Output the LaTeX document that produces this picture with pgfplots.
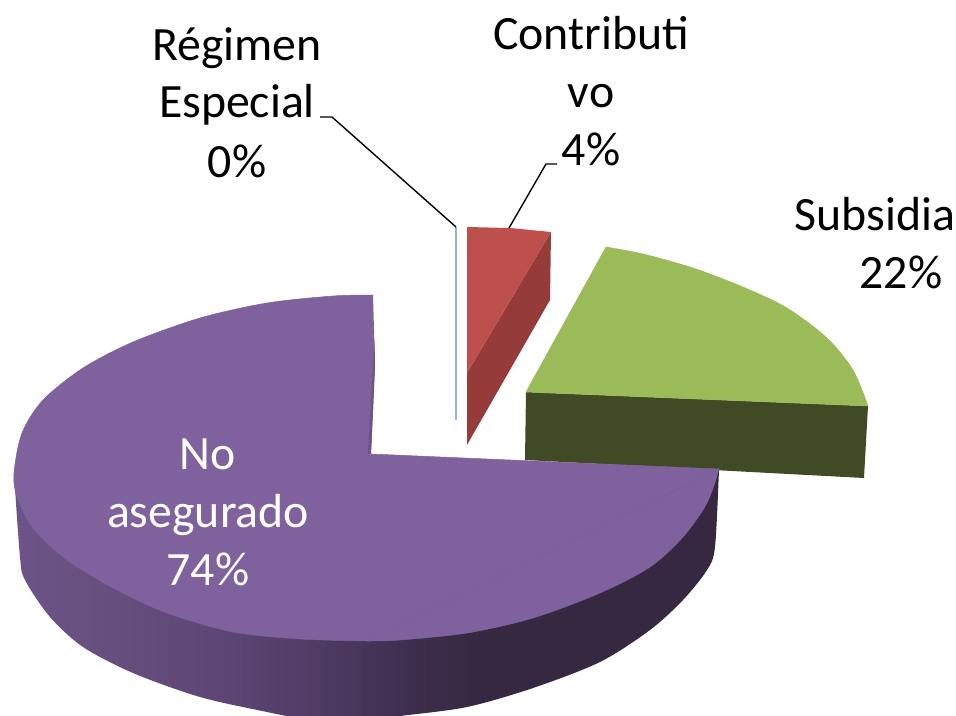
\documentclass[border=0pt]{standalone}
\usepackage{pgfplots}
\pgfplotsset{compat=1.18}
\usepackage{fontspec}
\setmainfont{Carlito}
\definecolor{purpletop}{HTML}{7F619D}
\definecolor{purplein}{HTML}{6C5389}
\definecolor{greentop}{HTML}{9BBB59}
\definecolor{greenside}{HTML}{404A24}
\definecolor{redtop}{HTML}{BD4F4C}
\definecolor{redside}{HTML}{953B3A}
\definecolor{bluefine}{HTML}{95B3D7}
\pgfdeclarehorizontalshading{purpleside}{100bp}{
 color(0bp)=(purplein); color(25bp)=(purplein);
 rgb(31bp)=(0.404,0.314,0.498);
 rgb(38.2bp)=(0.373,0.282,0.467);
 rgb(45.3bp)=(0.322,0.243,0.408);
 rgb(52.4bp)=(0.247,0.184,0.314);
 rgb(58bp)=(0.212,0.157,0.255);
 rgb(100bp)=(0.208,0.157,0.251)}
\newcommand{\lab}[3]{\node[anchor=base,inner sep=0pt,text=#3,font=\fontsize{47.8}{57}\selectfont] at (axis cs:#1) {#2};}
\begin{document}
\begin{tikzpicture}
\useasboundingbox (0,0) rectangle (956pt,715pt);
\begin{axis}[
  at={(0,0)}, anchor=south west,
  scale only axis, width=956pt, height=715pt,
  xmin=0, xmax=956, ymin=0, ymax=715, y dir=reverse,
  hide axis, clip=true]
% green side and top
\addplot[fill=greenside,draw=none] coordinates {(526,392)(868,406)(864,478)(525,460)} --cycle;
\addplot[fill=greentop,draw=greentop,line width=0.5pt,smooth] coordinates {(606,247)(643,254)(693,268)(743,287)(787,308)(827,338)(853,370)(868,406)};
\addplot[fill=greentop,draw=greentop,line width=0.5pt] coordinates {(606,247)(868,406)(526,392)} --cycle;
% red side and top
\addplot[fill=redside,draw=none] coordinates {(551,232)(550,300)(467,445)(467,373)} --cycle;
\addplot[fill=redtop,draw=none] coordinates {(467,227)(510,228)(551,232)(467,373)} --cycle;
% thin slice
\addplot[bluefine,line width=1.4pt] coordinates {(456,227)(456,420)};
% purple side and top
\addplot[shading=purpleside,draw=none,smooth] coordinates {(14,473)(20,557)(25,580)(50,617)(83,647)(133,673)(200,697)(267,712)(300,718)(350,722)(400,716)(467,707)(533,688)(600,662)(650,630)(683,600)(707,570)(715,547)(719,469)};
\addplot[fill=purpletop,draw=purpletop,line width=0.5pt,smooth] coordinates {(373,295)(333,296)(267,303)(200,318)(133,342)(83,368)(43,400)(22,433)(14,473)(17,497)(33,528)(67,560)(117,590)(167,613)(233,632)(300,639)(367,641)};
\addplot[fill=purpletop,draw=purpletop,line width=0.5pt,smooth] coordinates {(367,641)(400,640)(467,633)(533,618)(600,593)(650,567)(683,537)(707,503)(719,469)};
\addplot[fill=purpletop,draw=purpletop,line width=0.5pt] coordinates {(371,454)(719,469)(367,641)} --cycle;
\addplot[fill=purpletop,draw=none] coordinates {(373,295)(375,365)(371,454)(365,454)(365,295)} --cycle;
\addplot[fill=purpletop,draw=none] coordinates {(355,454)(385,456)(385,638)(355,638)} --cycle;
\addplot[fill=purplein,draw=none] coordinates {(374.5,340)(375,365)(371,454)(368,454)} --cycle;
% leader lines
\addplot[black,line width=1.4pt] coordinates {(320,117)(332,117)(456,227)};
\addplot[black,line width=1.4pt] coordinates {(557,164)(546,164)(509,228)};
% labels
\lab{237,60}{Régimen}{black}
\lab{237,117}{Especial}{black}
\lab{237,177}{0\%}{black}
\lab{591,49}{Contributi}{black}
\lab{591,107}{vo}{black}
\lab{591,165}{4\%}{black}
\lab{875,230}{Subsidia}{black}
\lab{901,288}{22\%}{black}
\lab{208,469}{No}{white}
\lab{208,527}{asegurado}{white}
\lab{208,585}{74\%}{white}
\end{axis}
\end{tikzpicture}
\end{document}
